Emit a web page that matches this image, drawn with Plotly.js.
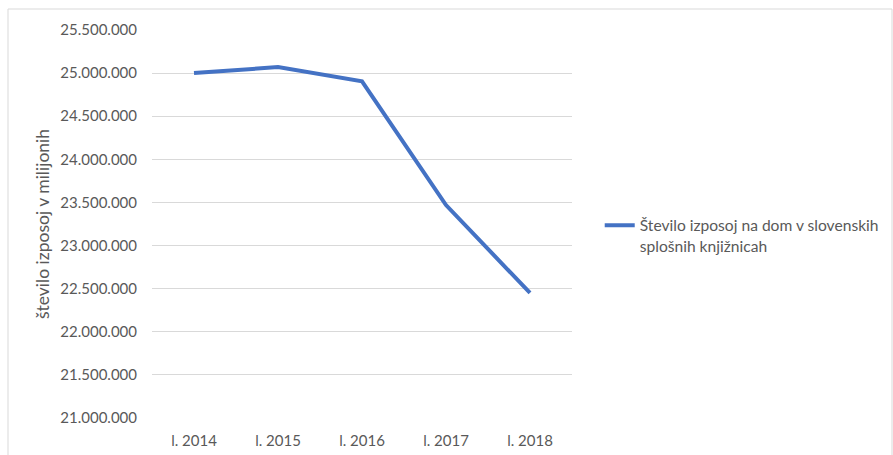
<!DOCTYPE html>
<html>
<head>
<meta charset="utf-8">
<script src="https://cdn.plot.ly/plotly-3.0.1.min.js"></script>
<style>
html,body{margin:0;padding:0;background:#fff;}
#chart{width:893px;height:455px;}
</style>
</head>
<body>
<div id="chart"></div>
<script>
const categories = ["l. 2014", "l. 2015", "l. 2016", "l. 2017", "l. 2018"];
const loans = [25000000, 25070000, 24905000, 23470000, 22450000];
const seriesName = "Število izposoj na dom v slovenskih<br>splošnih knjižnicah";
const yTitle = "število izposoj v milijonih";

const fontFam = "Lato, 'Open Sans', sans-serif";
const txtColor = "#595959";

const trace = {
  x: categories,
  y: loans,
  type: "scatter",
  mode: "lines",
  name: seriesName,
  line: {color: "#4472C4", width: 4}
};

const layout = {
  width: 893,
  height: 455,
  margin: {l: 152, r: 321, t: 30, b: 37, autoexpand: false},
  paper_bgcolor: "#ffffff",
  plot_bgcolor: "#ffffff",
  separators: ",.",
  font: {family: fontFam, size: 15, color: txtColor},
  showlegend: true,
  legend: {
    x: 1.066, y: 0.47, xanchor: "left", yanchor: "middle",
    valign: "top",
    font: {family: fontFam, size: 15.6, color: txtColor},
    bgcolor: "rgba(0,0,0,0)"
  },
  xaxis: {
    type: "category",
    showgrid: false,
    showline: false,
    zeroline: false,
    ticks: "",
    ticklabelstandoff: 12,
    tickfont: {family: fontFam, size: 15, color: txtColor},
    range: [-0.5, 4.5],
    fixedrange: true
  },
  yaxis: {
    range: [21000000, 25500000],
    dtick: 500000,
    tick0: 21000000,
    tickformat: ",d",
    showgrid: true,
    gridcolor: "#D9D9D9",
    gridwidth: 1,
    zeroline: false,
    showline: false,
    ticks: "",
    ticklabelstandoff: 14,
    tickfont: {family: fontFam, size: 15, color: txtColor},
    title: {text: yTitle, standoff: 6, font: {family: fontFam, size: 17.5, color: txtColor}},
    fixedrange: true
  },
  shapes: [{
    type: "rect", xref: "paper", yref: "paper",
    x0: (8 - 152) / 420, x1: (892 - 152) / 420,
    y0: (418 - 470) / 388, y1: (418 - 9) / 388,
    line: {color: "#D9D9D9", width: 1},
    fillcolor: "rgba(0,0,0,0)",
    layer: "below"
  }]
};

Plotly.newPlot("chart", [trace], layout, {displayModeBar: false, staticPlot: true});
</script>
</body>
</html>
